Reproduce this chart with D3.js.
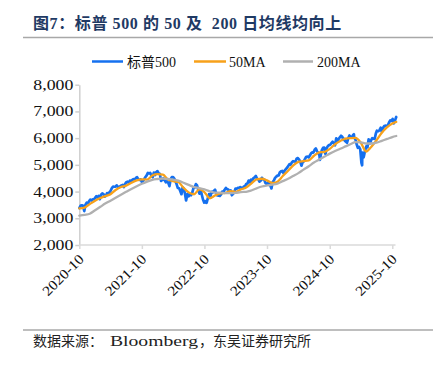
<!DOCTYPE html>
<html><head><meta charset="utf-8">
<script src="https://cdn.jsdelivr.net/npm/d3@7"></script>
<style>
html,body{margin:0;padding:0;background:#fff;}
svg{display:block;}
</style></head>
<body>
<svg id="c" width="443" height="366"></svg>
<script>
// ---------- DATA ----------
const title = "图7：标普 500 的 50 及  200 日均线均向上";
const source = ["数据来源：", "Bloomberg", "，东吴证券研究所"];
const seriesNames = ["标普500", "50MA", "200MA"];
const yTicks = [2000, 3000, 4000, 5000, 6000, 7000, 8000];
const xTickLabels = ["2020-10", "2021-10", "2022-10", "2023-10", "2024-10", "2025-10"];

const spxDates = [
"2020-10-01","2020-10-09","2020-10-16","2020-10-23","2020-10-30","2020-11-06","2020-11-13","2020-11-20","2020-11-27","2020-12-04","2020-12-11","2020-12-18","2020-12-24","2020-12-31",
"2021-01-08","2021-01-15","2021-01-22","2021-01-29","2021-02-05","2021-02-12","2021-02-19","2021-02-26","2021-03-05","2021-03-12","2021-03-19","2021-03-26","2021-04-01","2021-04-09","2021-04-16","2021-04-23","2021-04-30","2021-05-07","2021-05-14","2021-05-21","2021-05-28","2021-06-04","2021-06-11","2021-06-18","2021-06-25","2021-07-02","2021-07-09","2021-07-16","2021-07-23","2021-07-30","2021-08-06","2021-08-13","2021-08-20","2021-08-27","2021-09-03","2021-09-10","2021-09-17","2021-09-24","2021-10-01","2021-10-08","2021-10-15","2021-10-22","2021-10-29","2021-11-05","2021-11-12","2021-11-19","2021-11-26","2021-12-03","2021-12-10","2021-12-17","2021-12-23","2021-12-31",
"2022-01-07","2022-01-14","2022-01-21","2022-01-28","2022-02-04","2022-02-11","2022-02-18","2022-02-25","2022-03-04","2022-03-11","2022-03-18","2022-03-25","2022-04-01","2022-04-08","2022-04-14","2022-04-22","2022-04-29","2022-05-06","2022-05-13","2022-05-20","2022-05-27","2022-06-03","2022-06-10","2022-06-16","2022-06-24","2022-07-01","2022-07-08","2022-07-15","2022-07-22","2022-07-29","2022-08-05","2022-08-12","2022-08-19","2022-08-26","2022-09-02","2022-09-09","2022-09-16","2022-09-23","2022-09-30","2022-10-07","2022-10-12","2022-10-14","2022-10-21","2022-10-28","2022-11-04","2022-11-11","2022-11-18","2022-11-25","2022-12-02","2022-12-09","2022-12-16","2022-12-23","2022-12-30",
"2023-01-06","2023-01-13","2023-01-20","2023-01-27","2023-02-03","2023-02-10","2023-02-17","2023-02-24","2023-03-03","2023-03-10","2023-03-17","2023-03-24","2023-03-31","2023-04-06","2023-04-14","2023-04-21","2023-04-28","2023-05-05","2023-05-12","2023-05-19","2023-05-26","2023-06-02","2023-06-09","2023-06-16","2023-06-23","2023-06-30","2023-07-07","2023-07-14","2023-07-21","2023-07-28","2023-08-04","2023-08-11","2023-08-18","2023-08-25","2023-09-01","2023-09-08","2023-09-15","2023-09-22","2023-09-29","2023-10-06","2023-10-13","2023-10-20","2023-10-27","2023-11-03","2023-11-10","2023-11-17","2023-11-24","2023-12-01","2023-12-08","2023-12-15","2023-12-22","2023-12-29",
"2024-01-05","2024-01-12","2024-01-19","2024-01-26","2024-02-02","2024-02-09","2024-02-16","2024-02-23","2024-03-01","2024-03-08","2024-03-15","2024-03-22","2024-03-28","2024-04-05","2024-04-12","2024-04-19","2024-04-26","2024-05-03","2024-05-10","2024-05-17","2024-05-24","2024-05-31","2024-06-07","2024-06-14","2024-06-21","2024-06-28","2024-07-05","2024-07-12","2024-07-19","2024-07-26","2024-08-02","2024-08-05","2024-08-09","2024-08-16","2024-08-23","2024-08-30","2024-09-06","2024-09-13","2024-09-20","2024-09-27","2024-10-04","2024-10-11","2024-10-18","2024-10-25","2024-11-01","2024-11-08","2024-11-15","2024-11-22","2024-11-29","2024-12-06","2024-12-13","2024-12-20","2024-12-27","2024-12-31",
"2025-01-10","2025-01-17","2025-01-24","2025-01-31","2025-02-07","2025-02-14","2025-02-19","2025-02-21","2025-02-28","2025-03-07","2025-03-14","2025-03-21","2025-03-28","2025-04-04","2025-04-08","2025-04-09","2025-04-11","2025-04-17","2025-04-25","2025-05-02","2025-05-09","2025-05-16","2025-05-23","2025-05-30","2025-06-06","2025-06-13","2025-06-20","2025-06-27","2025-07-03","2025-07-11","2025-07-18","2025-07-25","2025-08-01","2025-08-08","2025-08-15","2025-08-22","2025-08-29","2025-09-05","2025-09-12","2025-09-19","2025-09-26","2025-10-03","2025-10-10","2025-10-17","2025-10-24"];

const spxValues = [
3381,3477,3484,3465,3270,3510,3585,3558,3638,3699,3663,3709,3703,3756,
3825,3768,3841,3714,3887,3934,3907,3811,3842,3943,3913,3975,4020,4129,4185,4180,4181,4233,4174,4156,4204,4230,4247,4166,4281,4352,4370,4327,4412,4395,4437,4468,4442,4509,4535,4459,4433,4455,4357,4391,4471,4545,4605,4697,4682,4698,4595,4538,4712,4620,4725,4766,
4677,4662,4398,4432,4500,4419,4349,4385,4329,4204,4463,4543,4546,4488,4393,4272,4132,4123,4024,3901,4158,4109,3901,3667,3912,3825,3899,3863,3962,4130,4145,4280,4228,4058,3924,4067,3873,3693,3586,3640,3577,3583,3752,3901,3771,3993,3965,4026,4072,3934,3852,3845,3840,
3895,3999,3973,4071,4136,4090,4079,3970,4046,3862,3917,3971,4109,4105,4138,4133,4169,4136,4124,4192,4205,4282,4299,4410,4348,4450,4399,4505,4536,4582,4478,4464,4370,4406,4516,4457,4450,4320,4288,4309,4327,4224,4117,4358,4415,4514,4559,4595,4604,4719,4755,4770,
4697,4784,4840,4891,4959,5027,5006,5089,5137,5124,5117,5234,5254,5204,5123,4967,5100,5128,5223,5303,5305,5278,5347,5432,5465,5460,5567,5615,5505,5459,5346,5186,5344,5554,5635,5648,5408,5626,5703,5738,5751,5815,5865,5808,5729,5995,5870,5969,6032,6090,6051,5931,5971,5882,
5827,5997,6101,6041,6026,6115,6144,6013,5955,5770,5639,5668,5581,5074,4983,5457,5363,5283,5525,5687,5660,5958,5803,5912,6000,5977,5968,6173,6279,6260,6297,6389,6238,6389,6450,6467,6460,6482,6584,6664,6644,6716,6553,6664,6792];

const maDates = ["2020-10-01","2020-11-01","2020-12-01","2021-01-01","2021-02-01","2021-03-01","2021-04-01","2021-05-01","2021-06-01","2021-07-01","2021-08-01","2021-09-01","2021-10-01","2021-11-01","2021-12-01",
"2022-01-01","2022-02-01","2022-03-01","2022-04-01","2022-05-01","2022-06-01","2022-07-01","2022-08-01","2022-09-01","2022-10-01","2022-11-01","2022-12-01",
"2023-01-01","2023-02-01","2023-03-01","2023-04-01","2023-05-01","2023-06-01","2023-07-01","2023-08-01","2023-09-01","2023-10-01","2023-11-01","2023-12-01",
"2024-01-01","2024-02-01","2024-03-01","2024-04-01","2024-05-01","2024-06-01","2024-07-01","2024-08-01","2024-09-01","2024-10-01","2024-11-01","2024-12-01",
"2025-01-01","2025-02-01","2025-03-01","2025-04-01","2025-05-01","2025-06-01","2025-07-01","2025-08-01","2025-09-01","2025-10-01","2025-10-24"];

const ma50Values = [3370,3400,3530,3660,3760,3830,3900,4060,4170,4220,4330,4420,4460,4450,4600,
4650,4630,4460,4390,4360,4140,3970,3900,4080,3980,3750,3850,
3930,3950,4020,3990,4080,4150,4300,4460,4480,4420,4320,4370,
4580,4780,4970,5110,5140,5170,5340,5470,5490,5600,5770,5890,
5980,6000,6010,5820,5500,5680,5920,6200,6410,6550,6610];

const ma200Values = [3100,3130,3170,3300,3430,3550,3660,3770,3880,3990,4100,4200,4290,4370,4440,
4470,4490,4470,4450,4410,4330,4250,4170,4130,4080,4010,3960,
3960,3940,3940,3950,3980,3990,4040,4120,4190,4230,4260,4300,
4390,4480,4580,4690,4820,4950,5090,5200,5310,5420,5520,5600,
5690,5780,5850,5840,5800,5800,5830,5900,5970,6040,6080];

// ---------- DRAW ----------
const parse = d3.timeParse("%Y-%m-%d");
const svg = d3.select("#c");
const colors = ["#1570ef", "#f7a11a", "#b0b0b0"];
const serif = "'Liberation Serif','Times New Roman','Noto Sans CJK SC',serif";

const x = d3.scaleTime()
  .domain([parse("2020-10-01"), parse("2025-10-01")])
  .range([79.3, 392.3]);
const y = d3.scaleLinear().domain([2000, 8000]).range([245, 84.7]);

// header / footer rules
svg.append("line").attr("x1",23).attr("x2",433).attr("y1",37.5).attr("y2",37.5)
  .attr("stroke","#a8a8a8").attr("stroke-width",1.5);
svg.append("line").attr("x1",23).attr("x2",433).attr("y1",330).attr("y2",330)
  .attr("stroke","#a8a8a8").attr("stroke-width",1.5);

svg.append("text").attr("x",33).attr("y",28.5)
  .attr("font-family",serif).attr("font-weight","bold").attr("font-size",16)
  .attr("letter-spacing",0.6).style("white-space","pre")
  .attr("fill","#1f3a64").text(title);

// footer
const fy = 346;
svg.append("text").attr("x",33).attr("y",fy).attr("font-family",serif).attr("font-size",14)
  .attr("fill","#222").text(source[0]);
svg.append("text").attr("x",110).attr("y",fy).attr("font-family",serif).attr("font-size",14)
  .attr("fill","#222").attr("textLength",88).attr("lengthAdjust","spacingAndGlyphs").text(source[1]);
svg.append("text").attr("x",199).attr("y",fy).attr("font-family",serif).attr("font-size",14)
  .attr("fill","#222").text(source[2]);

// axes
const yAxis = svg.append("g").attr("transform","translate(79.3,0)")
  .call(d3.axisLeft(y).tickValues(yTicks).tickSize(4).tickSizeOuter(0).tickFormat(d3.format(",")));
yAxis.select(".domain").attr("stroke","#cfcfcf").attr("stroke-width",1.5);
yAxis.selectAll(".tick line").attr("stroke","#cfcfcf").attr("stroke-width",1.5);
yAxis.selectAll(".tick text").attr("font-family",serif).attr("font-size",14).attr("fill","#111")
  .attr("x",-6).attr("textLength",40).attr("lengthAdjust","spacingAndGlyphs");

const xTickDates = xTickLabels.map(s => parse(s + "-01"));
const xAxis = svg.append("g").attr("transform","translate(0,245)")
  .call(d3.axisBottom(x).tickValues(xTickDates).tickSize(4).tickSizeOuter(0)
    .tickFormat((d,i) => xTickLabels[i]));
xAxis.select(".domain").attr("stroke","#dadada").attr("stroke-width",1.5)
  .attr("d","M79.3,0H395.5");
xAxis.selectAll(".tick line").attr("stroke","#dadada").attr("stroke-width",1.5);
xAxis.selectAll(".tick text").attr("font-family",serif).attr("font-size",14).attr("fill","#111")
  .attr("text-anchor","end").attr("y",0).attr("dy",0)
  .attr("transform","translate(5,15) rotate(-45)")
  .attr("textLength",52).attr("lengthAdjust","spacingAndGlyphs");

// lines
const spx = spxDates.map((d,i) => ({d: parse(d), v: spxValues[i]}));
const ma50 = maDates.map((d,i) => ({d: parse(d), v: ma50Values[i]}));
const ma200 = maDates.map((d,i) => ({d: parse(d), v: ma200Values[i]}));

const lineLin = d3.line().x(p => x(p.d)).y(p => y(p.v));
const lineSmooth = d3.line().x(p => x(p.d)).y(p => y(p.v)).curve(d3.curveMonotoneX);

const widths = [2.7, 2.3, 2.3];
[[spx, lineLin], [ma50, lineSmooth], [ma200, lineSmooth]].forEach(([data, gen], i) => {
  svg.append("path").datum(data).attr("d", gen).attr("fill","none")
    .attr("stroke", colors[i]).attr("stroke-width", widths[i])
    .attr("stroke-linejoin","round").attr("stroke-linecap","round");
});

// legend
const legendItems = [
  {x1: 92, x2: 123, tx: 127},
  {x1: 194, x2: 226, tx: 229},
  {x1: 283, x2: 313, tx: 317}
];
legendItems.forEach((it, i) => {
  svg.append("line").attr("x1",it.x1).attr("x2",it.x2).attr("y1",61.5).attr("y2",61.5)
    .attr("stroke",colors[i]).attr("stroke-width",2.5);
  svg.append("text").attr("x",it.tx).attr("y",66.5).attr("font-family",serif)
    .attr("font-size",14).attr("fill","#111").text(seriesNames[i]);
});
</script>
</body></html>
